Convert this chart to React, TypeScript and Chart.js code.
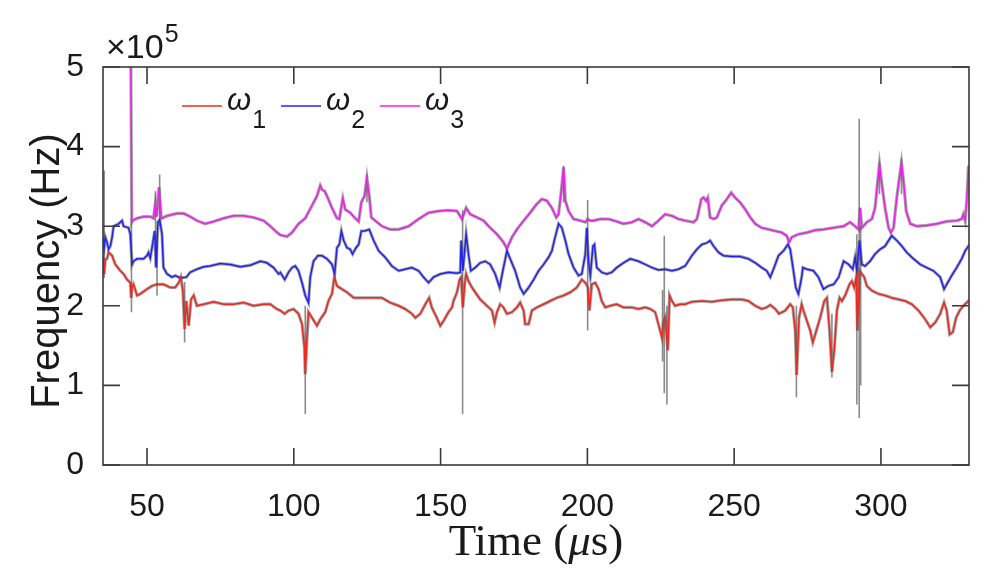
import React, { useEffect, useRef } from 'react';
import { Chart, registerables } from 'chart.js';
Chart.register(...registerables);

// axis setup (frequency in units of 1e5 Hz)
const xTickValues = [50, 100, 150, 200, 250, 300];
const yTickValues = [0, 1, 2, 3, 4, 5];
const xMin = 35;
const xMax = 330;
const yMin = 0;
const yMax = 5;

// omega 1 (red)
const w1Time = [35.0,35.4,35.8,36.35,36.9,37.5,38.1,39.2,40.9,42.0,43.2,44.3,44.6,44.9,45.4,46.6,47.7,50.0,51.7,53.4,55.6,57.9,59.6,60.8,61.5,62.2,62.8,63.4,64.2,65.0,65.9,67.0,69.3,72.7,76.1,79.5,82.9,86.3,89.7,92.0,94.2,95.4,96.9,98.2,99.9,101.6,102.8,103.6,103.9,104.5,105.0,106.2,107.9,109.0,110.7,111.8,113.0,113.8,114.7,116.4,118.1,120.4,123.2,126.6,130.0,132.8,135.7,137.9,140.2,141.4,143.1,144.8,146.1,147.0,148.7,149.9,151.0,152.7,153.9,154.4,155.6,156.5,157.0,157.6,158.2,158.7,159.5,160.7,161.8,163.5,165.8,167.5,168.4,169.2,170.3,171.4,172.6,174.3,176.0,177.1,178.3,178.8,180.0,181.1,182.8,185.1,187.3,189.6,191.9,194.2,196.4,198.1,199.3,200.2,200.7,201.5,202.7,203.8,204.9,206.1,207.8,210.0,212.3,215.2,217.4,219.7,221.4,223.1,224.2,225.4,225.9,226.5,227.4,228.0,228.8,229.9,231.6,233.3,235.6,239.0,242.4,245.8,249.2,252.6,254.9,257.2,259.4,261.1,262.3,264.0,265.3,267.4,269.1,270.0,270.8,271.3,272.1,273.0,273.6,274.8,275.9,276.8,278.0,279.3,280.7,281.6,282.5,283.3,284.1,285.0,285.9,286.7,287.8,289.3,290.1,290.9,291.6,292.0,292.7,293.5,294.3,295.2,296.9,299.2,301.4,303.7,306.0,308.3,310.5,312.8,315.1,316.8,318.5,320.2,321.5,322.4,323.4,324.5,325.6,326.8,328.1,329.8,330.0];
const w1Val = [2.61,2.40,2.58,2.59,2.67,2.65,2.63,2.52,2.44,2.40,2.33,2.29,2.10,2.23,2.27,2.13,2.15,2.21,2.25,2.27,2.27,2.23,2.23,2.29,2.36,2.19,1.71,2.06,1.75,2.08,2.13,2.00,2.02,2.05,2.02,2.02,2.04,2.00,2.02,2.02,1.96,1.94,1.90,1.94,1.96,1.90,1.77,1.48,1.14,1.60,1.92,1.85,1.75,1.83,1.92,2.06,2.15,2.36,2.25,2.21,2.17,2.10,2.10,2.10,2.10,2.04,2.00,1.96,1.90,1.85,1.90,2.02,2.10,1.98,1.85,1.75,1.81,1.92,1.98,2.06,2.17,2.33,2.36,1.98,2.27,2.40,2.31,2.23,2.17,2.08,2.00,1.94,1.79,1.92,2.02,1.98,1.90,1.92,1.98,2.04,1.94,1.77,1.77,1.94,1.98,2.02,2.06,2.10,2.13,2.17,2.23,2.33,2.29,2.23,1.94,2.27,2.29,2.21,2.06,1.98,2.00,2.02,1.98,1.98,1.96,1.98,1.96,1.92,1.77,1.60,1.79,1.85,1.44,2.13,2.06,2.00,2.02,2.02,2.05,2.06,2.05,2.07,2.08,2.08,2.06,2.00,1.96,1.98,2.01,1.96,1.90,1.94,2.02,1.98,1.69,1.13,1.85,2.02,1.94,1.81,1.69,1.54,1.69,1.85,2.06,2.10,1.69,1.17,1.44,1.94,2.10,2.06,2.13,2.27,2.31,2.23,2.36,1.69,2.44,2.40,2.36,2.25,2.19,2.15,2.13,2.10,2.08,2.06,2.02,1.94,1.83,1.73,1.79,1.90,2.04,1.94,1.64,1.67,1.85,1.94,2.00,2.06,2.07];

// omega 2 (blue)
const w2Time = [35.0,35.4,35.8,36.35,36.9,37.5,38.1,38.6,40.3,41.5,42.0,43.7,44.3,44.9,45.4,46.6,48.8,50.0,50.5,51.1,51.7,52.6,53.1,53.7,54.3,55.1,55.6,56.8,58.5,59.6,61.3,63.4,64.7,67.0,69.3,71.5,74.9,78.3,81.8,85.2,88.6,90.8,93.1,94.8,95.4,96.9,98.2,99.4,100.5,101.6,102.8,103.9,105.0,105.6,106.7,108.2,109.6,111.3,113.0,113.9,114.7,115.5,116.2,117.0,118.1,119.2,120.0,121.2,122.1,123.0,124.1,125.7,127.2,128.9,131.1,133.4,135.7,137.9,140.2,142.5,144.2,145.9,147.6,149.9,152.7,155.6,156.7,157.0,157.6,158.2,158.7,159.5,160.3,161.8,163.5,165.2,166.9,168.6,170.1,171.2,172.6,173.7,175.4,177.1,178.3,180.0,181.7,183.4,185.1,186.8,187.9,189.0,190.2,191.3,192.5,193.6,195.3,197.0,198.1,199.3,199.8,200.4,201.0,201.9,202.4,203.2,204.9,206.6,208.3,210.0,212.3,214.6,217.4,219.7,222.0,224.2,226.5,228.8,231.0,233.3,235.6,237.3,239.0,240.7,241.8,243.0,244.7,246.4,249.2,252.0,254.9,257.2,259.4,261.1,262.3,263.4,265.1,266.8,268.3,269.1,270.2,271.0,271.9,273.0,273.4,274.8,277.0,278.7,280.4,282.1,283.9,285.6,287.3,289.0,290.4,291.2,291.8,292.7,293.5,294.6,296.3,298.0,299.7,301.4,302.6,303.7,305.4,307.1,308.8,311.1,313.4,315.6,317.9,320.2,321.5,322.4,324.1,325.8,327.5,328.7,329.8,330.0];
const w2Val = [2.86,2.73,2.86,2.80,2.71,2.75,2.86,3.00,3.03,3.07,3.00,2.98,2.90,2.52,2.56,2.59,2.59,2.63,2.67,2.60,2.73,2.94,2.48,3.05,3.08,2.90,2.48,2.40,2.36,2.38,2.35,2.36,2.42,2.46,2.49,2.50,2.53,2.52,2.49,2.51,2.56,2.54,2.48,2.40,2.42,2.33,2.42,2.48,2.50,2.44,2.29,2.13,2.04,2.36,2.56,2.63,2.63,2.59,2.52,2.40,2.73,2.77,2.94,2.82,2.73,2.71,2.65,2.73,2.77,2.94,2.94,2.96,2.82,2.69,2.61,2.50,2.44,2.46,2.48,2.44,2.36,2.29,2.36,2.40,2.42,2.41,2.42,2.82,2.44,2.69,2.90,2.65,2.44,2.48,2.54,2.56,2.52,2.40,2.23,2.44,2.69,2.59,2.44,2.23,2.15,2.23,2.33,2.44,2.52,2.61,2.69,2.86,3.03,2.98,2.82,2.65,2.48,2.38,2.40,2.65,2.98,2.56,2.38,2.75,2.77,2.48,2.42,2.40,2.42,2.48,2.54,2.59,2.56,2.52,2.48,2.45,2.46,2.44,2.46,2.50,2.63,2.71,2.77,2.79,2.82,2.75,2.67,2.63,2.62,2.62,2.59,2.54,2.48,2.44,2.36,2.46,2.63,2.69,2.77,2.71,2.44,2.23,2.15,2.36,2.48,2.46,2.44,2.36,2.21,2.25,2.27,2.36,2.56,2.52,2.46,2.61,2.44,2.82,2.52,2.50,2.56,2.65,2.71,2.75,2.82,2.88,2.82,2.75,2.67,2.59,2.52,2.48,2.44,2.36,2.21,2.27,2.38,2.48,2.59,2.69,2.75,2.76];

// omega 3 (magenta)
const w3Time = [44.4,44.8,45.1,46.6,48.8,51.1,52.2,52.8,53.3,54.1,54.8,55.1,56.8,60.2,62.5,64.7,67.0,69.8,72.7,76.1,79.5,82.9,86.3,89.7,92.0,93.7,95.4,97.7,99.4,101.6,103.9,106.2,107.9,109.0,109.6,110.5,111.3,113.0,114.7,115.5,116.7,117.5,119.2,120.9,122.1,123.0,124.1,124.9,125.7,126.4,127.7,130.0,132.8,135.7,139.1,142.5,145.9,149.3,152.7,155.6,157.3,158.7,160.1,162.4,164.6,166.9,169.2,171.4,172.6,174.3,176.0,178.3,180.5,182.8,184.5,186.2,187.9,189.4,190.2,191.1,191.9,192.5,193.6,195.3,197.6,199.3,200.1,201.0,202.1,204.4,207.2,210.0,212.3,215.2,217.4,219.7,222.0,224.2,226.5,228.8,231.0,233.3,236.2,237.3,238.8,239.6,240.4,241.0,241.8,243.0,244.1,245.8,247.5,249.0,250.3,252.0,253.8,255.5,257.2,259.4,261.7,264.0,266.2,267.9,268.7,269.6,271.9,274.8,277.6,280.4,283.9,287.3,289.5,291.2,292.4,292.9,293.5,295.2,296.9,298.0,298.8,299.5,300.3,301.4,302.6,303.4,304.3,305.4,306.3,307.0,307.7,308.6,310.0,312.2,315.6,319.0,322.4,325.8,327.5,328.1,328.7,329.3,329.8,330.0];
const w3Val = [5.60,3.05,3.07,3.10,3.12,3.12,3.10,3.28,3.12,3.49,3.12,3.10,3.13,3.16,3.16,3.12,3.07,3.03,3.06,3.10,3.13,3.13,3.11,3.07,3.00,2.94,2.89,2.87,2.92,3.03,3.10,3.26,3.38,3.51,3.46,3.44,3.38,3.23,3.10,3.09,3.35,3.21,3.17,3.10,3.06,3.30,3.38,3.61,3.38,3.11,3.07,3.00,2.96,2.96,3.00,3.09,3.17,3.19,3.20,3.19,3.09,3.23,3.15,3.11,3.07,2.98,2.90,2.80,2.72,2.86,2.96,3.07,3.17,3.28,3.34,3.32,3.23,3.11,3.15,3.44,3.74,3.32,3.19,3.09,3.07,3.05,3.09,3.07,3.07,3.09,3.09,3.06,3.03,3.05,3.09,3.05,3.00,3.07,3.15,3.13,3.09,3.07,3.05,3.09,3.34,3.36,3.32,3.36,3.11,3.09,3.11,3.26,3.34,3.42,3.36,3.30,3.21,3.11,3.03,2.98,2.96,2.94,2.92,2.88,2.80,2.86,2.90,2.92,2.95,2.96,2.98,3.00,3.05,3.00,2.96,3.23,2.98,3.05,3.09,3.23,3.53,3.78,3.53,3.23,2.98,2.92,2.98,3.36,3.61,3.80,3.57,3.19,3.03,3.00,3.01,3.03,3.06,3.07,3.09,3.15,3.07,3.36,3.74,3.76];

// grey ensemble excursions (time, low, high)
const spikeTime = [35.4,44.7,52.9,53.4,54.3,62.8,103.9,124.9,157.5,191.9,200.1,225.6,226.2,227.1,271.2,283.3,291.8,292.6,293.1,299.5,307.0];
const spikeLow = [2.35,1.92,2.50,2.13,3.00,1.54,0.64,3.30,0.64,3.30,1.69,1.30,0.90,0.76,0.85,1.10,0.76,0.59,1.00,3.40,3.40];
const spikeHigh = [3.70,3.10,3.44,2.90,3.65,2.30,2.00,3.65,3.20,3.76,3.33,2.20,2.88,2.00,2.00,1.90,2.90,4.35,3.00,3.80,3.85];

const seriesSubscripts = ['1', '2', '3'];
const seriesColors = ['#ee2a20', '#2222f0', '#f020f0'];

const toPoints = (t: number[], v: number[]) => t.map((x, i) => ({ x, y: v[i] }));

const decorPlugin = {
  id: 'decor',
  afterDraw(chart: any) {
    const { ctx, chartArea: a, scales } = chart;
    const x = scales.x;
    const y = scales.y;
    ctx.save();
    ctx.strokeStyle = '#3a3a3a';
    ctx.lineWidth = 1.6;
    ctx.strokeRect(a.left, a.top, a.right - a.left, a.bottom - a.top);
    const L = 17;
    ctx.beginPath();
    for (const v of xTickValues) {
      const px = x.getPixelForValue(v);
      ctx.moveTo(px, a.bottom); ctx.lineTo(px, a.bottom - L);
      ctx.moveTo(px, a.top); ctx.lineTo(px, a.top + L);
    }
    for (const v of yTickValues) {
      const py = y.getPixelForValue(v);
      ctx.moveTo(a.left, py); ctx.lineTo(a.left + L, py);
      ctx.moveTo(a.right, py); ctx.lineTo(a.right - L, py);
    }
    ctx.stroke();

    ctx.fillStyle = '#1a1a1a';
    ctx.textBaseline = 'alphabetic';
    // exponent label
    ctx.textAlign = 'left';
    ctx.font = '34px "Liberation Sans", Arial, sans-serif';
    ctx.fillText('\u00d710', a.left + 3, a.top - 9);
    const w10 = ctx.measureText('\u00d710').width;
    ctx.font = '25px "Liberation Sans", Arial, sans-serif';
    ctx.fillText('5', a.left + 3 + w10 + 1, a.top - 25);

    // legend
    let lx = a.left + 79;
    const ly = a.top + 39;
    for (let i = 0; i < 3; i++) {
      ctx.strokeStyle = seriesColors[i];
      ctx.lineWidth = 1.6;
      ctx.beginPath();
      ctx.moveTo(lx, ly); ctx.lineTo(lx + 40, ly);
      ctx.stroke();
      lx += 45;
      ctx.font = 'italic 31px "Liberation Sans", Arial, sans-serif';
      ctx.fillText('\u03c9', lx, ly + 4);
      lx += ctx.measureText('\u03c9').width + 1;
      ctx.font = '25px "Liberation Sans", Arial, sans-serif';
      ctx.fillText(seriesSubscripts[i], lx, ly + 22);
      lx += ctx.measureText(seriesSubscripts[i]).width + 15;
    }

    // y title
    ctx.save();
    ctx.translate(59, (a.top + a.bottom) / 2 + 5);
    ctx.rotate(-Math.PI / 2);
    ctx.textAlign = 'center';
    ctx.font = '40px "Liberation Sans", Arial, sans-serif';
    ctx.fillText('Frequency (Hz)', 0, 0);
    ctx.restore();

    // x title with italic mu
    const parts = [
      { t: 'Time (', f: '45px "Liberation Serif", "Times New Roman", serif' },
      { t: '\u03bc', f: 'italic 45px "Liberation Serif", "Times New Roman", serif' },
      { t: 's)', f: '45px "Liberation Serif", "Times New Roman", serif' },
    ];
    let total = 0;
    for (const p of parts) { ctx.font = p.f; total += ctx.measureText(p.t).width; }
    let tx = (a.left + a.right) / 2 - total / 2;
    ctx.textAlign = 'left';
    for (const p of parts) {
      ctx.font = p.f;
      ctx.fillText(p.t, tx, 555);
      tx += ctx.measureText(p.t).width;
    }
    ctx.restore();
  },
};

export default function App() {
  const ref = useRef<HTMLCanvasElement | null>(null);
  useEffect(() => {
    document.body.style.margin = '0';
    const spikeData: any[] = [];
    spikeTime.forEach((t, i) => {
      spikeData.push({ x: t, y: spikeLow[i] }, { x: t, y: spikeHigh[i] }, { x: t, y: null });
    });
    const series = [toPoints(w1Time, w1Val), toPoints(w2Time, w2Val), toPoints(w3Time, w3Val)];
    const colored = series.map((d, i) => ({
      label: 'w' + seriesSubscripts[i],
      data: d,
      borderColor: seriesColors[i],
      borderWidth: 1.5,
      pointRadius: 0,
      tension: 0,
      order: 0,
    }));
    const greys = series.map((d, i) => ({
      label: 'g' + i,
      data: d,
      borderColor: 'rgba(80,80,80,0.5)',
      borderWidth: 3.2,
      pointRadius: 0,
      tension: 0,
      order: 1,
    }));
    const spikes = {
      label: 'spikes',
      data: spikeData,
      borderColor: 'rgba(100,100,100,0.75)',
      borderWidth: 1.6,
      pointRadius: 0,
      spanGaps: false,
      order: 2,
    };
    const chart = new Chart(ref.current as HTMLCanvasElement, {
      type: 'line',
      data: { datasets: [...colored, ...greys, spikes] as any },
      options: {
        animation: false,
        responsive: false,
        devicePixelRatio: 1,
        layout: { padding: { top: 67, right: 31, left: 0, bottom: 0 } },
        plugins: { legend: { display: false }, tooltip: { enabled: false } },
        scales: {
          x: {
            type: 'linear',
            min: xMin,
            max: xMax,
            offset: false,
            grid: { display: false },
            border: { display: false },
            afterBuildTicks: (s: any) => { s.ticks = xTickValues.map((v) => ({ value: v })); },
            afterFit: (s: any) => { s.height = 123; },
            ticks: {
              padding: 15,
              color: '#1a1a1a',
              font: { family: '"Liberation Sans", Arial, sans-serif', size: 32 },
              maxRotation: 0,
              autoSkip: false,
            },
          },
          y: {
            type: 'linear',
            min: yMin,
            max: yMax,
            grid: { display: false },
            border: { display: false },
            afterBuildTicks: (s: any) => { s.ticks = yTickValues.map((v) => ({ value: v })); },
            afterFit: (s: any) => { s.width = 103; },
            ticks: {
              padding: 11,
              color: '#1a1a1a',
              font: { family: '"Liberation Sans", Arial, sans-serif', size: 32 },
              autoSkip: false,
            },
          },
        },
      },
      plugins: [decorPlugin],
    });
    return () => chart.destroy();
  }, []);
  return (
    <div style={{ width: 1000, height: 588, background: '#fff' }}>
      <canvas ref={ref} width={1000} height={588} style={{ display: 'block' }} />
    </div>
  );
}
